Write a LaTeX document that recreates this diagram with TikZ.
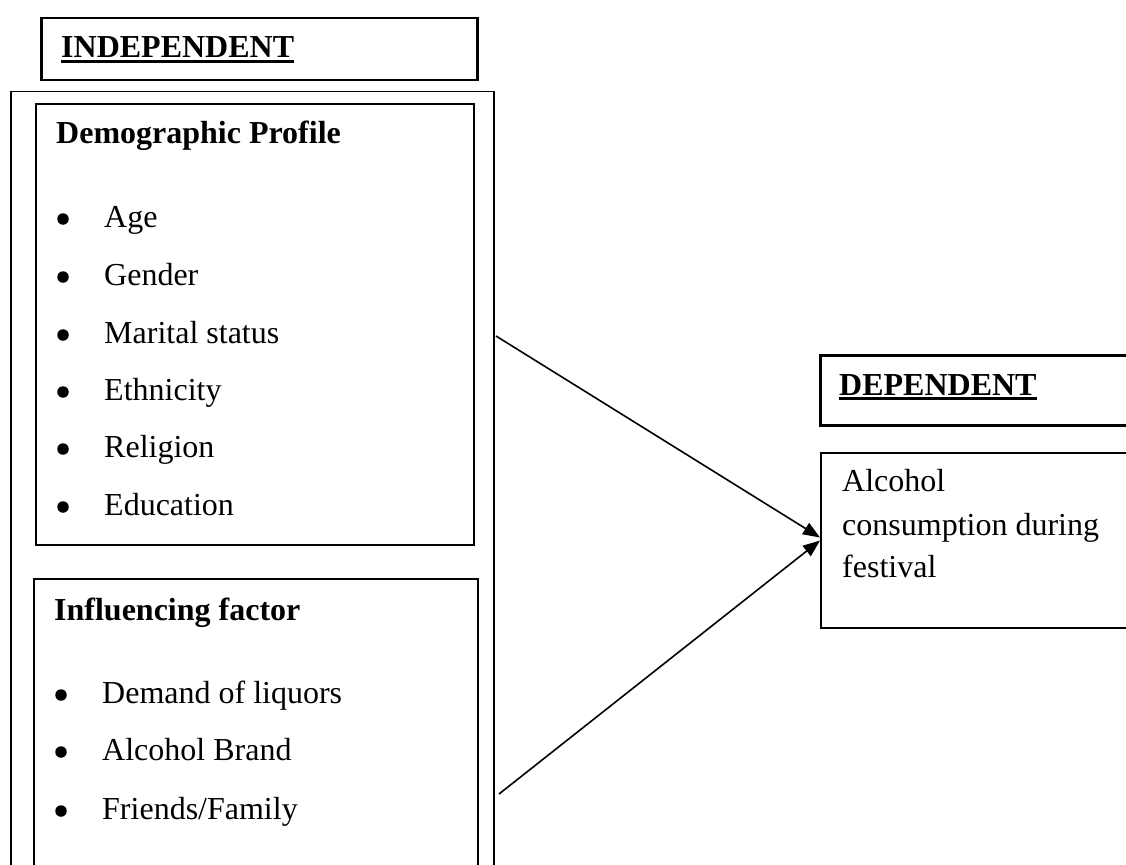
\documentclass[tikz,border=0pt]{standalone}
\usepackage{fontspec}
\setmainfont{Liberation Serif}
\usetikzlibrary{arrows.meta}
\begin{document}
\begin{tikzpicture}[x=1pt,y=-1pt,
  box/.style={draw, line width=1.8pt, inner sep=0pt, anchor=north west},
  thickbox/.style={box, line width=2.5pt},
  txt/.style={anchor=base west, inner sep=0pt, font=\fontsize{32}{38}\selectfont},
  btxt/.style={txt, font=\fontsize{32}{38}\selectfont\bfseries},
  bul/.style={circle, fill, inner sep=0pt, minimum size=11.5pt},
  arr/.style={line width=1.6pt, -{Triangle[length=17pt,width=13pt]}},
  uline/.style={line width=2.8pt}]
\useasboundingbox (0,0) rectangle (1126,864);
\clip (0,0) rectangle (1126,864);

% boxes
\node[thickbox, minimum width=436pt, minimum height=62pt] (ind) at (40,17) {};
\node[box, line width=1.5pt, minimum width=483pt, minimum height=820pt] (outer) at (10,91) {};
\node[box, minimum width=438pt, minimum height=441pt] (demo) at (35,103) {};
\node[box, minimum width=444pt, minimum height=330pt] (infl) at (33,578) {};
\node[thickbox, minimum width=340pt, minimum height=70pt] (dep) at (819,354) {};
\node[box, minimum width=340pt, minimum height=175pt] (alc) at (820,452) {};

% headings
\node[btxt] (indt) at (61,58) {INDEPENDENT};
\draw[uline] ([yshift=-3.5pt]indt.base west) -- ([yshift=-3.5pt]indt.base east);
\node[btxt] (dept) at (839,395) {DEPENDENT};
\draw[uline] ([yshift=-3.5pt]dept.base west) -- ([yshift=-3.5pt]dept.base east);

\node[btxt] (demot) at (56,143) {Demographic Profile};
\node[btxt] (inflt) at (54,620) {Influencing factor};

% demographic items
\node[bul] (b1) at (63,219) {}; \node[txt] (i1) at (104,227) {Age};
\node[bul] (b2) at (63,277) {}; \node[txt] (i2) at (104,285) {Gender};
\node[bul] (b3) at (63,335) {}; \node[txt] (i3) at (104,343) {Marital status};
\node[bul] (b4) at (63,392) {}; \node[txt] (i4) at (104,400) {Ethnicity};
\node[bul] (b5) at (63,449) {}; \node[txt] (i5) at (104,457) {Religion};
\node[bul] (b6) at (63,507) {}; \node[txt] (i6) at (104,515) {Education};

% influencing items
\node[bul] (c1) at (61,695) {}; \node[txt] (j1) at (102,703) {Demand of liquors};
\node[bul] (c2) at (61,752) {}; \node[txt] (j2) at (102,760) {Alcohol Brand};
\node[bul] (c3) at (61,811) {}; \node[txt] (j3) at (102,819) {Friends/Family};

% dependent text
\node[txt] (a1) at (842,491) {Alcohol};
\node[txt] (a2) at (842,535) {consumption during};
\node[txt] (a3) at (842,577) {festival};

% connectors
\coordinate (s1) at (496,336);
\coordinate (s2) at (499,794);
\coordinate (t1) at (820,537.5);
\coordinate (t2) at (820,540.5);
\draw[arr] (s1) -- (t1);
\draw[arr] (s2) -- (t2);
\end{tikzpicture}
\end{document}
